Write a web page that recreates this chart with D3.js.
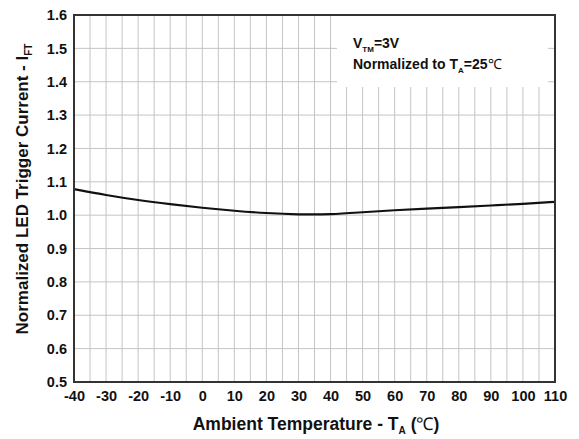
<!DOCTYPE html>
<html>
<head>
<meta charset="utf-8">
<script src="https://cdn.jsdelivr.net/npm/d3@7"></script>
<style>
  body { margin: 0; background: #fff; }
  text { font-family: "Liberation Sans", Arial, sans-serif; font-weight: bold; fill: #111; }
</style>
</head>
<body>
<svg width="579" height="439"></svg>
<script>
// data
const temps = [-40, -30, -20, -10, 0, 10, 20, 30, 40, 50, 60, 70, 80, 90, 100, 110];
const iftNorm = [1.078, 1.060, 1.045, 1.033, 1.022, 1.013, 1.006, 1.002, 1.002, 1.009, 1.015, 1.020, 1.024, 1.029, 1.034, 1.040];
const xTicks = [-40, -30, -20, -10, 0, 10, 20, 30, 40, 50, 60, 70, 80, 90, 100, 110];
const yTicks = [0.5, 0.6, 0.7, 0.8, 0.9, 1.0, 1.1, 1.2, 1.3, 1.4, 1.5, 1.6];

const svg = d3.select('svg');
const pL = 74, pR = 555, pT = 15, pB = 382;

const x = d3.scaleLinear().domain([-40, 110]).range([pL, pR]);
const y = d3.scaleLinear().domain([0.5, 1.6]).range([pB, pT]);

// grid: vertical every 5 degrees, horizontal every 0.1
const grid = svg.append('g').attr('stroke', '#c4c4c4').attr('stroke-width', 1);
grid.selectAll('.v').data(d3.range(-35, 110, 5)).enter().append('line')
    .attr('x1', d => x(d)).attr('x2', d => x(d))
    .attr('y1', pT).attr('y2', pB);
grid.selectAll('.h').data(yTicks.slice(1, -1)).enter().append('line')
    .attr('x1', pL).attr('x2', pR)
    .attr('y1', d => y(d)).attr('y2', d => y(d));

// white box behind the note
svg.append('rect')
    .attr('x', 337).attr('y', pT)
    .attr('width', 211).attr('height', 72)
    .attr('fill', '#fff');

// curve
const line = d3.line().x((d, i) => x(temps[i])).y(d => y(d)).curve(d3.curveBasis);
svg.append('path')
    .datum(iftNorm)
    .attr('d', line)
    .attr('fill', 'none')
    .attr('stroke', '#111')
    .attr('stroke-width', 2.2);

// frame
svg.append('rect')
    .attr('x', pL).attr('y', pT)
    .attr('width', pR - pL).attr('height', pB - pT)
    .attr('fill', 'none')
    .attr('stroke', '#333')
    .attr('stroke-width', 2);

// axes (labels only)
const xAxis = svg.append('g')
    .attr('transform', `translate(0,${pB})`)
    .call(d3.axisBottom(x).tickValues(xTicks).tickSize(0).tickPadding(9).tickFormat(d => String(d)));
xAxis.select('.domain').remove();
xAxis.selectAll('text').style('font-size', '14.5px');

const yAxis = svg.append('g')
    .attr('transform', `translate(${pL},0)`)
    .call(d3.axisLeft(y).tickValues(yTicks).tickSize(0).tickPadding(7).tickFormat(d3.format('.1f')));
yAxis.select('.domain').remove();
yAxis.selectAll('text').style('font-size', '14.5px');

// note text
const note = svg.append('g').style('font-size', '14px');
const t1 = note.append('text').attr('x', 353).attr('y', 48);
t1.append('tspan').text('V');
t1.append('tspan').attr('dy', 4).style('font-size', '8px').text('TM');
t1.append('tspan').attr('dy', -4).text('=3V');
const t2 = note.append('text').attr('x', 353).attr('y', 69);
t2.append('tspan').text('Normalized to T');
t2.append('tspan').attr('dy', 4).style('font-size', '8px').text('A');
t2.append('tspan').attr('dy', -4).text('=25');
t2.append('tspan').style('font-weight', 'normal').text('℃');

// axis titles
const xt = svg.append('text')
    .attr('x', 316).attr('y', 430)
    .attr('text-anchor', 'middle')
    .style('font-size', '17.5px');
xt.append('tspan').text('Ambient Temperature - T');
xt.append('tspan').attr('dy', 4).style('font-size', '10px').text('A');
xt.append('tspan').attr('dy', -4).text(' (');
xt.append('tspan').style('font-weight', 'normal').text('℃');
xt.append('tspan').text(')');

const yt = svg.append('text')
    .attr('transform', `translate(28,${189}) rotate(-90)`)
    .attr('text-anchor', 'middle')
    .style('font-size', '17px');
yt.append('tspan').text('Normalized LED Trigger Current - I');
yt.append('tspan').attr('dy', 4).style('font-size', '10px').text('FT');
</script>
</body>
</html>
